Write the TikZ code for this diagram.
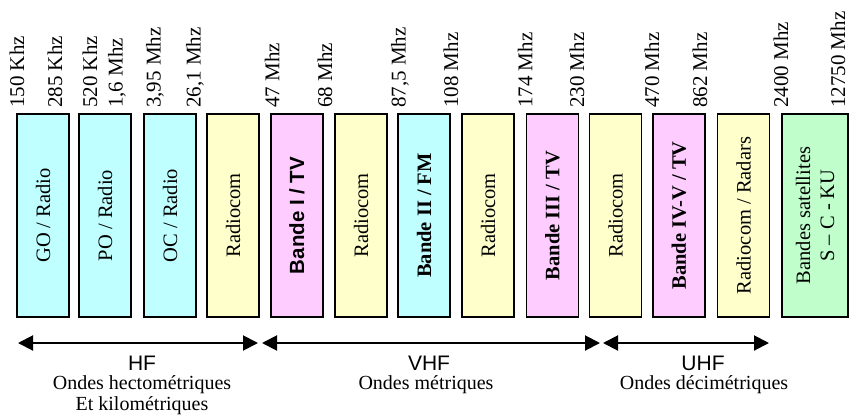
\documentclass[tikz,border=0pt]{standalone}
\usepackage{fontspec}
\setmainfont{Liberation Serif}
\newfontfamily\arialfont{Liberation Sans}
\usetikzlibrary{arrows.meta}

\definecolor{bleu}{RGB}{192,255,255}
\definecolor{jaune}{RGB}{255,255,204}
\definecolor{rose}{RGB}{255,204,255}
\definecolor{vert}{RGB}{192,255,204}

\begin{document}
\begin{tikzpicture}[x=1pt, y=-1pt,
		bande/.style={draw, line width=1.5pt, rotate=90, minimum width=203pt, minimum height=52pt, inner sep=0pt, align=center, font=\fontsize{20.5}{24}\selectfont},
		freq/.style={rotate=90, anchor=west, inner sep=0pt, font=\fontsize{21}{24}\selectfont},
		gamme/.style={line width=2pt, {Triangle[length=15pt,width=15pt]}-{Triangle[length=15pt,width=15pt]}},
		sigle/.style={font=\arialfont\fontsize{21}{24}\selectfont},
		ondes/.style={anchor=north, align=center, inner sep=0pt, font=\fontsize{20}{21.5}\selectfont}]
	\useasboundingbox (0, 0) rectangle (851, 418);

	\node[bande, fill=bleu] (go) at (43, 215.5) {GO / Radio};
	\node[bande, fill=bleu] (po) at (105, 215.5) {PO / Radio};
	\node[bande, fill=bleu] (oc) at (170, 215.5) {OC / Radio};
	\node[bande, fill=jaune] (rc1) at (233, 215.5) {Radiocom};
	\node[bande, fill=rose] (b1) at (297, 215.5) {\arialfont\bfseries Bande I / TV};
	\node[bande, fill=jaune] (rc2) at (361, 215.5) {Radiocom};
	\node[bande, fill=bleu] (b2) at (424, 215.5) {\bfseries Bande II / FM};
	\node[bande, fill=jaune] (rc3) at (488, 215.5) {Radiocom};
	\node[bande, fill=rose] (b3) at (552.5, 215.5) {\bfseries Bande III / TV};
	\node[bande, fill=jaune] (rc4) at (615.5, 215.5) {Radiocom};
	\node[bande, fill=rose] (b45) at (679, 215.5) {\bfseries Bande IV-V / TV};
	\node[bande, fill=jaune] (radar) at (743.5, 215.5) {Radiocom / Radars};
	\node[bande, fill=vert, minimum height=66pt] (sat) at (815, 215.5) {Bandes satellites\\S – C - KU};

	\node[freq] (f1) at (17, 108) {150 Khz};
	\node[freq] (f2) at (55, 108) {285 Khz};
	\node[freq] (f3) at (90, 108) {520 Khz};
	\node[freq] (f4) at (117, 108) {1,6 Mhz};
	\node[freq] (f5) at (155, 108) {3,95 Mhz};
	\node[freq] (f6) at (195, 108) {26,1 Mhz};
	\node[freq] (f7) at (272, 108) {47 Mhz};
	\node[freq] (f8) at (325, 108) {68 Mhz};
	\node[freq] (f9) at (400, 108) {87,5 Mhz};
	\node[freq] (f10) at (451, 108) {108 Mhz};
	\node[freq] (f11) at (525, 108) {174 Mhz};
	\node[freq] (f12) at (577, 108) {230 Mhz};
	\node[freq] (f13) at (652, 108) {470 Mhz};
	\node[freq] (f14) at (700, 108) {862 Mhz};
	\node[freq] (f15) at (781, 108) {2400 Mhz};
	\node[freq] (f16) at (838, 108) {12750 Mhz};

	\coordinate (hf-g) at (18, 343);
	\coordinate (hf-d) at (258, 343);
	\coordinate (vhf-g) at (262, 343);
	\coordinate (vhf-d) at (600, 343);
	\coordinate (uhf-g) at (603, 343);
	\coordinate (uhf-d) at (769, 343);
	\draw[gamme] (hf-g) -- (hf-d);
	\draw[gamme] (vhf-g) -- (vhf-d);
	\draw[gamme] (uhf-g) -- (uhf-d);

	\node[sigle] (hf) at (142, 363) {HF};
	\node[sigle] (vhf) at (429, 363) {VHF};
	\node[sigle] (uhf) at (703, 363) {UHF};
	\node[ondes] (hf-ondes) at (142, 375) {Ondes hectométriques\\Et kilométriques};
	\node[ondes] (vhf-ondes) at (426, 375) {Ondes métriques};
	\node[ondes] (uhf-ondes) at (704, 375) {Ondes décimétriques};
\end{tikzpicture}
\end{document}
